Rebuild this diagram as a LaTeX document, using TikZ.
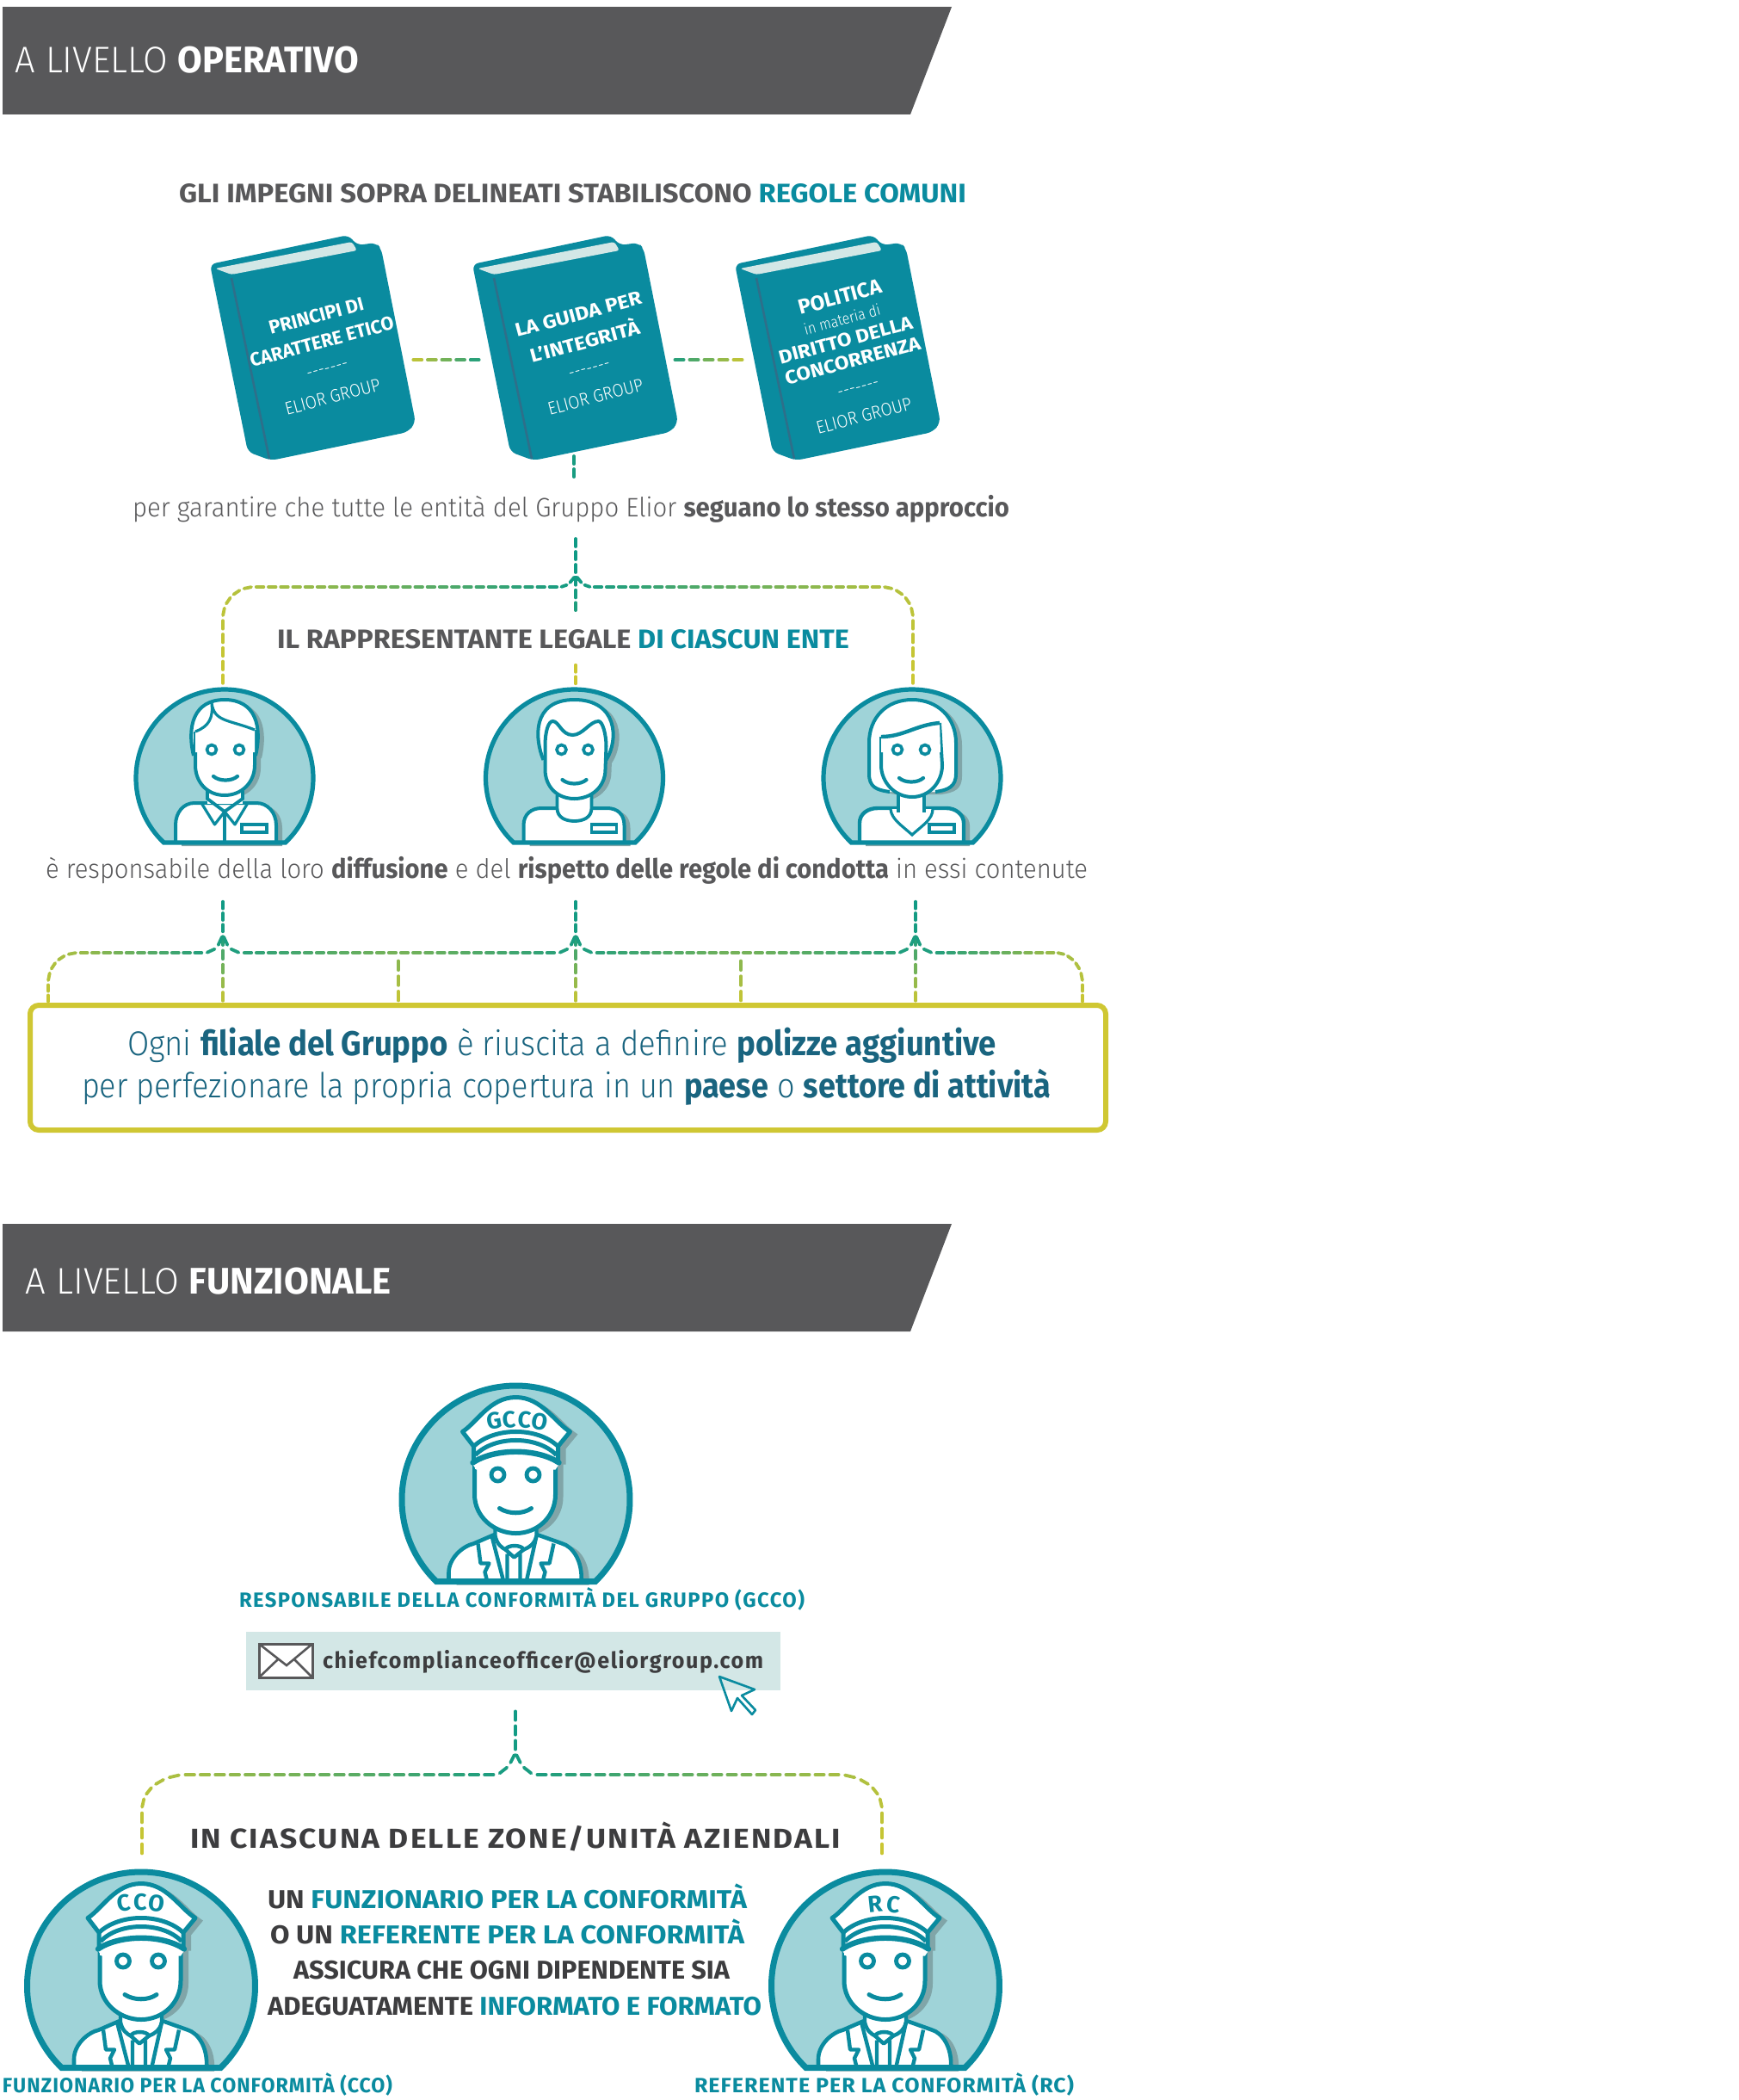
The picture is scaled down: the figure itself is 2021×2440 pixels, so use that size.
\documentclass[tikz,border=0pt]{standalone}
\usepackage{graphicx}
\usepackage{fontspec}
\setmainfont{Fira Sans Light}[BoldFont={Fira Sans Bold}]
\definecolor{hdr}{HTML}{58585A}
\definecolor{dk}{HTML}{3D3D3F}
\definecolor{tl}{HTML}{0A8B9F}
\definecolor{bxt}{HTML}{19647F}
\definecolor{pale}{HTML}{D3E7E6}
\definecolor{cfill}{HTML}{9FD3D8}
\definecolor{shd}{HTML}{80A5A8}
\definecolor{spn}{HTML}{2E6F8A}
\definecolor{ybox}{HTML}{CFC733}
\definecolor{dy}{HTML}{CDC732}
\definecolor{dt}{HTML}{0F9A85}
\newsavebox\fitbox
\newcommand\fit[2]{\sbox\fitbox{#2}\pgfmathsetmacro\fitr{#1*0.5/\wd\fitbox}\scalebox{\fitr}[1]{\usebox\fitbox}}
\newcommand\fs[1]{\fontsize{#1}{#1}\selectfont}
\newcommand\gpath[4]{\foreach \i in {1,...,#2}{%
  \pgfmathsetmacro\ta{(\i-1+.2)/#2}\pgfmathsetmacro\tb{(\i-.2)/#2}\pgfmathsetmacro\mx{#3+(#4-#3)*(\i-.5)/#2}%
  \path #1 coordinate[pos=\ta] (dA) coordinate[pos=\tb] (dB);
  \draw[dashln,color=dy!\mx!dt] (dA) -- (dB);}}
% book
\newcommand\bookshape[1]{\begin{scope}[xshift=#1*0.5pt]
  \fill[tl,rounded corners=3.5pt] (244,307) -- (405,273) -- (415,285) -- (437,282) -- (443,289) -- (483,491) -- (474,502) -- (315,535) -- (288,525) -- cycle;
  \fill[pale,rounded corners=1.5pt] (250,312) -- (409,281) -- (415,291) -- (269,319) -- cycle;
  \draw[spn,line width=1.3pt] (269,323) -- (313,533);
  \end{scope}}
% small persons
\newcommand\cutcircle{(133.3:103) arc[start angle=133.3,end angle=406.7,radius=103] -- cycle}
\newcommand\badge{\draw[tl,fill=white,line width=1.6pt] (20,54) rectangle (49,63);}
\newcommand\eyes[2]{\draw[tl,fill=white,line width=1.8pt] (#1,-33) circle[radius=5.5] (#2,-33) circle[radius=5.5];}
\newcommand\mouth[2]{\draw[tl,line width=2.1pt,line cap=round] (-14+#1,#2) .. controls (-7+#1,#2+6) and (7+#1,#2+6) .. (14+#1,#2);}
\newcommand\persA{
  \newcommand\hairP{(-36,-26) .. controls (-44,-60) and (-36,-91) .. (0,-91) .. controls (36,-91) and (44,-60) .. (36,-26)}
  \newcommand\faceP{(-34,-54) -- (-34,-15) .. controls (-34,5) and (-20,20) .. (0,20) .. controls (20,20) and (35,5) .. (35,-15) -- (35,-56)}
  \newcommand\bodyP{(-57,76) -- (-57,55) .. controls (-57,40) and (-48,29) .. (-35,29) -- (37,29) .. controls (50,29) and (60,40) .. (60,55) -- (60,76)}
  \fill[cfill] \cutcircle;
  \begin{scope}[shift={(7,3)}]\fill[shd] \hairP -- cycle; \fill[shd] \faceP -- cycle; \fill[shd] \bodyP -- cycle;\end{scope}
  \fill[white] \bodyP -- cycle;
  \draw[tl,line width=2pt] \bodyP;
  \fill[white] (-20,15) rectangle (21,30);
  \draw[tl,line width=1.9pt] (-20,15) -- (-20,24) -- (0,39) -- (21,24) -- (21,15) (0,39) -- (0,76);
  \draw[tl,line width=1.6pt,line join=round] (-27,29) -- (-11.5,54) -- (0,39) -- (12,54) -- (27,29);
  \fill[white] \hairP -- cycle;
  \draw[tl,line width=2pt] \hairP;
  \fill[white] \faceP -- cycle;
  \draw[tl,line width=2pt] \faceP;
  \fill[white] (-34,-54) .. controls (-18,-60) and (-13,-70) .. (-15,-87) .. controls (-12,-65) and (5,-68) .. (35,-56) -- (35,-30) -- (-34,-30) -- cycle;
  \draw[tl,line width=1.6pt] (-34,-54) .. controls (-18,-60) and (-13,-70) .. (-15,-87) .. controls (-12,-65) and (5,-68) .. (35,-56);
  \badge \eyes{-15}{17} \mouth{1}{-2}
  \draw[tl,line width=2.6pt] \cutcircle;}
\newcommand\persB{
  \newcommand\hairQ{(-36,-21) .. controls (-46,-45) and (-50,-91) .. (0,-91) .. controls (50,-91) and (52,-45) .. (37,-21)}
  \newcommand\faceQ{(-34,-37) -- (-34,-10) .. controls (-34,10) and (-20,24) .. (0,24) .. controls (20,24) and (36,10) .. (36,-10) -- (37,-37)}
  \newcommand\bodyQ{(-59,76) -- (-59,55) .. controls (-59,42) and (-50,35) .. (-38,35) -- (38,35) .. controls (50,35) and (58,42) .. (58,55) -- (58,76)}
  \newcommand\frQ{(-34,-37) .. controls (-34,-55) and (-30,-66) .. (-25,-66) .. controls (-18,-66) and (-15,-50) .. (-2,-50) .. controls (10,-50) and (18,-66) .. (28,-66) .. controls (33,-66) and (37,-50) .. (37,-37)}
  \fill[cfill] \cutcircle;
  \begin{scope}[shift={(7,3)}]\fill[shd] \hairQ -- cycle; \fill[shd] \faceQ -- cycle; \fill[shd] \bodyQ -- cycle;\end{scope}
  \fill[white] \bodyQ -- cycle;
  \draw[tl,line width=2pt] \bodyQ;
  \fill[white] (-20,20) -- (-20,35) .. controls (-20,46) and (-10,50) .. (0,50) .. controls (10,50) and (20,46) .. (20,35) -- (20,20) -- cycle;
  \draw[tl,line width=1.9pt] (-20,20) -- (-20,35) .. controls (-20,46) and (-10,50) .. (0,50) .. controls (10,50) and (20,46) .. (20,35) -- (20,20);
  \fill[white] \hairQ -- cycle;
  \draw[tl,line width=2pt] \hairQ;
  \fill[white] \faceQ -- cycle;
  \draw[tl,line width=2pt] \faceQ;
  \draw[tl,line width=2pt] \frQ;
  \badge \eyes{-15}{16} \mouth{0}{2}
  \draw[tl,line width=2.6pt] \cutcircle;}
\newcommand\persC{
  \newcommand\hairR{(-26,16) .. controls (-42,14) and (-50,10) .. (-50,-5) -- (-50,-41) .. controls (-50,-70) and (-30,-91) .. (0,-91) .. controls (30,-91) and (51,-70) .. (51,-41) -- (51,-5) .. controls (51,10) and (42,14) .. (27,16)}
  \newcommand\faceR{(-36,-48) -- (-36,-15) .. controls (-36,5) and (-20,22) .. (0,22) .. controls (20,22) and (35,5) .. (35,-15) -- (32,-64)}
  \newcommand\bodyR{(-61,76) -- (-61,52) .. controls (-61,42) and (-52,35) .. (-40,35) -- (40,35) .. controls (50,35) and (60,42) .. (60,52) -- (60,76)}
  \fill[cfill] \cutcircle;
  \begin{scope}[shift={(7,3)}]\fill[shd] \hairR -- cycle; \fill[shd] \bodyR -- cycle;\end{scope}
  \fill[white] \bodyR -- cycle;
  \draw[tl,line width=2.2pt] \bodyR;
  \fill[white] (-25,36) .. controls (-24,48) and (-12,55) .. (0,66) .. controls (12,55) and (24,48) .. (24,36) -- cycle;
  \draw[tl,line width=1.6pt] (-25,36) .. controls (-24,48) and (-12,55) .. (0,66) .. controls (12,55) and (24,48) .. (24,36);
  \fill[white] (-16,15) rectangle (14,38);
  \draw[tl,line width=1.9pt] (-16,15) -- (-16,40) (14,15) -- (14,40);
  \fill[white] \hairR -- cycle;
  \draw[tl,line width=2pt] \hairR;
  \fill[white] \faceR -- cycle;
  \draw[tl,line width=2pt] \faceR;
  \fill[white] (-36,-48) .. controls (-10,-48) and (5,-62) .. (32,-64) -- (33,-30) -- (-36,-30) -- cycle;
  \draw[tl,line width=2.2pt] (-36,-48) .. controls (-10,-48) and (5,-62) .. (32,-64);
  \badge \eyes{-17}{15} \mouth{-1}{0}
  \draw[tl,line width=2.6pt] \cutcircle;}
% officer
\newcommand\bigcut{(134.2:132.5) arc[start angle=134.2,end angle=405.8,radius=132.5] -- cycle}
\newcommand\hatP{(-62,-79) .. controls (-45,-90) and (-30,-119) .. (0,-119) .. controls (30,-119) and (45,-90) .. (63,-79) -- (49,-62) -- (49,-44) -- (-49,-44) -- (-49,-62) -- cycle}
\newcommand\faceC{(-48,-45) -- (-48,-6) .. controls (-48,20) and (-25,39) .. (0,39) .. controls (25,39) and (46,20) .. (46,-6) -- (46,-45)}
\newcommand\bodyC{(-78,96) -- (-78,85) .. controls (-78,68) and (-62,54) .. (-49,51) -- (-26,41) -- (26,41) -- (54,51) .. controls (65,54) and (78,70) .. (76,96)}
\newcommand\officer[1]{
  \fill[cfill] \bigcut;
  \begin{scope}[shift={(9,3)}]\fill[shd] \hatP; \fill[shd] \faceC -- cycle; \fill[shd] \bodyC -- cycle;\end{scope}
  \fill[white] \bodyC -- cycle;
  \draw[tl,line width=2.3pt,line join=round] \bodyC;
  \fill[white] (-24,30) -- (-24,42) .. controls (-22,52) and (-12,58) .. (-10,60) -- (8,60) .. controls (12,58) and (22,52) .. (24,42) -- (24,30) -- cycle;
  \draw[tl,line width=2.2pt] (-24,30) -- (-24,42) .. controls (-22,52) and (-16,56) .. (-12,58) (24,30) -- (24,42) .. controls (22,52) and (14,56) .. (9,58);
  \draw[tl,line width=2.2pt,line join=round] (-44,51) -- (-41,74) -- (-31,74) -- (-36,84) -- (-33,96) (-28,42) -- (-14,96)
     (44,51) -- (39,74) -- (29,74) -- (34,84) -- (31,96) (24,42) -- (12,96)
     (-12,58) .. controls (-10,52) and (7,52) .. (9,58) -- (-2,67) -- cycle (-10,63) -- (-10,96) (5,63) -- (5,96);
  \fill[white] \faceC -- cycle;
  \draw[tl,line width=2.5pt] \faceC;
  \fill[white] \hatP;
  \draw[tl,line width=2.5pt,line join=round] \hatP;
  \fill[white] (-52,-44) .. controls (-25,-60) and (25,-60) .. (52,-44) -- (46,-35) -- (-46,-35) -- cycle;
  \fill[white] (-48,-46) rectangle (46,-36);
  \draw[tl,line width=2.5pt] (-49,-62) .. controls (-25,-84.7) and (25,-84.7) .. (49,-62)
     (-47,-52) .. controls (-25,-74.7) and (25,-74.7) .. (47,-52);
  \draw[tl,line width=3.2pt,line cap=round] (-50,-43) .. controls (-25,-60) and (25,-60) .. (50,-43);
  \draw[tl,fill=white,line width=2.4pt] (-21,-29) circle[radius=7.5] (20,-29) circle[radius=7.5];
  \draw[tl,line width=2.5pt,line cap=round] (-19,10) .. controls (-8,17) and (8,17) .. (18,10);
  \draw[tl,line width=3.5pt] \bigcut;
  #1}
\tikzset{
  x=0.5pt,y=-0.5pt,
  dashln/.style={line width=1.9pt,line cap=round},
  lbl/.style={anchor=base west,inner sep=0pt,outer sep=0pt},
  btx/.style={anchor=center,inner sep=0pt,outer sep=0pt,rotate=15,text=white},
  hat/.style={anchor=center,inner sep=0pt,outer sep=0pt,text=tl,font=\bfseries\fs{13.5}},
  hdrbar/.style={fill=hdr}
}
\begin{document}
\begin{tikzpicture}
\useasboundingbox (0,0) rectangle (2021,2440);
\fill[white] (0,0) rectangle (2021,2440);
% headers
\fill[hdrbar] (3,8) -- (1106,8) -- (1058,133) -- (3,133) -- cycle;
\node[lbl,text=white] (h1) at (18,85) {\fit{399}{\fs{21.5}A LIVELLO \textbf{OPERATIVO}}};
\fill[hdrbar] (3,1422) -- (1106,1422) -- (1058,1547) -- (3,1547) -- cycle;
\node[lbl,text=white] (h2) at (30,1503) {\fit{425}{\fs{21.5}A LIVELLO \textbf{FUNZIONALE}}};
\node[lbl,text=hdr] (t1) at (208,235) {\fit{915}{\fs{15.5}\bfseries GLI IMPEGNI SOPRA DELINEATI STABILISCONO \textcolor{tl}{REGOLE COMUNI}}};
% books
\bookshape{0}\bookshape{305}\bookshape{610}
\begin{scope}[every node/.style={btx}]
\node[font=\bfseries\fs{11}] (b1a) at (367.5,367) {\fit{113}{PRINCIPI DI}};
\node[font=\bfseries\fs{11}] (b1b) at (374,397) {\fit{172}{CARATTERE ETICO}};
\node[font=\fs{10}] (b1c) at (381,431) {\fit{49}{-{}-{}-{}-{}-{}-{}-}};
\node[font=\fs{10.5}] (b1d) at (386.5,461) {\fit{114}{ELIOR GROUP}};
\node[font=\bfseries\fs{11}] (b2a) at (672,365) {\fit{151}{LA GUIDA PER}};
\node[font=\bfseries\fs{11}] (b2b) at (679,395) {\fit{131}{L’INTEGRITÀ}};
\node[font=\fs{10}] (b2c) at (685.5,431) {\fit{49}{-{}-{}-{}-{}-{}-{}-}};
\node[font=\fs{10.5}] (b2d) at (692,461) {\fit{114}{ELIOR GROUP}};
\node[font=\bfseries\fs{12}] (b3a) at (976,345) {\fit{99}{POLITICA}};
\node[font=\fs{9}] (b3b) at (978.6,371) {\fit{91}{in materia di}};
\node[font=\bfseries\fs{11}] (b3c) at (982.6,395) {\fit{160}{DIRITTO DELLA}};
\node[font=\bfseries\fs{11}] (b3d) at (991,419) {\fit{162}{CONCORRENZA}};
\node[font=\fs{10}] (b3e) at (998,453) {\fit{49}{-{}-{}-{}-{}-{}-{}-}};
\node[font=\fs{10.5}] (b3f) at (1004,483) {\fit{114}{ELIOR GROUP}};
\end{scope}
% book links
\coordinate (l1a) at (477,418); \coordinate (l1b) at (560,418);
\coordinate (l2a) at (781,418); \coordinate (l2b) at (866,418);
\gpath{(l1a) -- (l1b)}{5}{100}{5}
\gpath{(l2a) -- (l2b)}{5}{5}{100}
\coordinate (d1a) at (667,527); \coordinate (d1b) at (667,557);
\gpath{(d1a) -- (d1b)}{2}{5}{5}
\node[lbl,text=hdr] (t2) at (154,600) {\fit{1019}{\fs{15.5}per garantire che tutte le entità del Gruppo Elior \textbf{seguano lo stesso approccio}}};
% bracket 1
\coordinate (e1t) at (669,623); \coordinate (e1m) at (669,668); \coordinate (e1b) at (669,712);
\coordinate (e1c) at (669,770); \coordinate (e1d) at (669,797);
\coordinate (e1l) at (650,682); \coordinate (e1r) at (688,682);
\coordinate (e1lc) at (295,682); \coordinate (e1rc) at (1025,682);
\coordinate (e1lv) at (259,718); \coordinate (e1rv) at (1061,718);
\coordinate (e1le) at (259,797); \coordinate (e1re) at (1061,797);
\gpath{(e1t) -- (e1m)}{3}{0}{0}
\gpath{(e1m) -- (e1b)}{3}{0}{10}
\gpath{(e1c) -- (e1d)}{2}{100}{100}
\gpath{(e1m) .. controls (664,677) and (658,682) .. (e1l)}{2}{0}{5}
\gpath{(e1m) .. controls (674,677) and (680,682) .. (e1r)}{2}{0}{5}
\gpath{(e1l) -- (e1lc)}{25}{5}{85}
\gpath{(e1r) -- (e1rc)}{24}{5}{85}
\gpath{(e1lc) .. controls (275,682) and (259,698) .. (e1lv)}{4}{85}{92}
\gpath{(e1rc) .. controls (1045,682) and (1061,698) .. (e1rv)}{4}{85}{92}
\gpath{(e1lv) -- (e1le)}{5}{92}{100}
\gpath{(e1rv) -- (e1re)}{5}{92}{100}
\node[lbl,text=hdr] (t3) at (322,753) {\fit{665}{\fs{15.5}\bfseries IL RAPPRESENTANTE LEGALE \textcolor{tl}{DI CIASCUN ENTE}}};
% persons
\begin{scope}[shift={(261,904)}]\persA\end{scope}
\begin{scope}[shift={(667.5,904)}]\persB\end{scope}
\begin{scope}[shift={(1060,904)}]\persC\end{scope}
\node[lbl,text=hdr] (t4) at (53,1020) {\fit{1211}{\fs{15.5}è responsabile della loro \textbf{diffusione} e del \textbf{rispetto delle regole di condotta} in essi contenute}};
% bracket 2
\foreach \n/\x in {a/259,b/669,c/1064}{
  \coordinate (f\n t) at (\x,1045); \coordinate (f\n m) at (\x,1085); \coordinate (f\n b) at (\x,1166);
  \gpath{(f\n t) -- (f\n m)}{3}{0}{5}
  \gpath{(f\n m) -- (f\n b)}{5}{5}{100}
  \coordinate (f\n l) at (\x-22,1107); \coordinate (f\n r) at (\x+22,1107);
  \gpath{(f\n m) .. controls (\x-3,1097) and (\x-9,1107) .. (f\n l)}{2}{5}{10}
  \gpath{(f\n m) .. controls (\x+3,1097) and (\x+9,1107) .. (f\n r)}{2}{5}{10}
}
\coordinate (flc) at (91,1107); \coordinate (frc) at (1227,1107);
\coordinate (flv) at (56,1142); \coordinate (frv) at (1258,1142);
\coordinate (fle) at (56,1166); \coordinate (fre) at (1258,1166);
\coordinate (fm1) at (463,1107); \coordinate (fm2) at (861,1107);
\coordinate (fd1) at (463,1113); \coordinate (fd2) at (861,1113);
\coordinate (fe1) at (463,1166); \coordinate (fe2) at (861,1166);
\gpath{(fal) -- (flc)}{11}{10}{75}
\gpath{(fcr) -- (frc)}{11}{10}{75}
\gpath{(far) -- (fm1)}{13}{15}{55}
\gpath{(fm1) -- (fbl)}{13}{55}{15}
\gpath{(fbr) -- (fm2)}{13}{15}{55}
\gpath{(fm2) -- (fcl)}{13}{55}{15}
\gpath{(flc) .. controls (71,1107) and (56,1122) .. (flv)}{4}{75}{90}
\gpath{(frc) .. controls (1243,1107) and (1258,1122) .. (frv)}{4}{75}{90}
\gpath{(flv) -- (fle)}{2}{90}{100}
\gpath{(frv) -- (fre)}{2}{90}{100}
\gpath{(fd1) -- (fe1)}{3}{60}{100}
\gpath{(fd2) -- (fe2)}{3}{60}{100}
% box
\node[draw=ybox,line width=3pt,fill=white,rounded corners=5pt,minimum width=625pt,minimum height=72.5pt,inner sep=0pt,outer sep=0pt,anchor=north west] (box) at (35,1168) {};
\node[lbl,text=bxt] (bx1) at (148,1226) {\fit{1010}{\fs{20}Ogni \textbf{filiale del Gruppo} è riuscita a definire \textbf{polizze aggiuntive}}};
\node[lbl,text=bxt] (bx2) at (95,1275) {\fit{1126}{\fs{20}per perfezionare la propria copertura in un \textbf{paese} o \textbf{settore di attività}}};
% GCCO
\begin{scope}[shift={(599.5,1742.5)}]
\officer{
  \node[hat,rotate=10] (g1) at (-25,-92) {G};
  \node[hat,rotate=4] (g2) at (-8,-93) {C};
  \node[hat,rotate=-4] (g3) at (10,-93) {C};
  \node[hat,rotate=-10] (g4) at (28,-91) {O};}
\end{scope}
\node[lbl,text=tl] (t5) at (278,1867) {\fit{657}{\fs{12}\addfontfeature{LetterSpace=6}\bfseries RESPONSABILE DELLA CONFORMITÀ DEL GRUPPO (GCCO)}};
\fill[pale] (286,1896) rectangle (907,1964);
\fill[gray!75] (303,1912) rectangle (365,1951);
\draw[hdr,fill=white,line width=1.5pt] (301,1910) rectangle (363,1949);
\draw[hdr,line width=1.3pt] (301,1910) -- (333,1935) -- (363,1910) (301,1949) -- (323,1928) (363,1949) -- (342,1928);
\node[lbl,text=dk] (mail) at (375,1938) {\fit{512}{\fs{13}\addfontfeature{LetterSpace=6}\bfseries chiefcomplianceofficer@eliorgroup.com}};
\draw[tl,line width=1.3pt,line join=round] (836,1948) -- (877,1963) -- (862,1970) -- (878,1987) -- (874,1992) -- (857,1973) -- (850,1988) -- cycle;
% bracket 3
\coordinate (g1t) at (599,1985); \coordinate (g1m) at (599,2036);
\coordinate (g1l) at (577,2062); \coordinate (g1r) at (621,2062);
\coordinate (g1lc) at (212,2062); \coordinate (g1rc) at (978,2062);
\coordinate (g1lv) at (165,2103); \coordinate (g1rv) at (1025,2103);
\coordinate (g1le) at (165,2157); \coordinate (g1re) at (1025,2157);
\gpath{(g1t) -- (g1m)}{3}{0}{3}
\gpath{(g1m) .. controls (595,2046) and (590,2057) .. (g1l)}{2}{3}{6}
\gpath{(g1m) .. controls (603,2046) and (608,2057) .. (g1r)}{2}{3}{6}
\gpath{(g1l) -- (g1lc)}{21}{6}{80}
\gpath{(g1r) -- (g1rc)}{21}{6}{80}
\gpath{(g1lc) .. controls (185,2065) and (165,2080) .. (g1lv)}{4}{80}{92}
\gpath{(g1rc) .. controls (1005,2065) and (1025,2080) .. (g1rv)}{4}{80}{92}
\gpath{(g1lv) -- (g1le)}{3}{92}{100}
\gpath{(g1rv) -- (g1re)}{3}{92}{100}
\node[lbl,text=dk] (t6) at (221,2147) {\fit{756}{\fs{16}\addfontfeature{LetterSpace=6}\bfseries IN CIASCUNA DELLE ZONE/UNITÀ AZIENDALI}};
% officers
\begin{scope}[shift={(164,2307.5)}]
\officer{
  \node[hat,rotate=8] (c1) at (-20,-96) {C};
  \node[hat] (c2) at (-1,-97) {C};
  \node[hat,rotate=-8] (c3) at (18,-96) {O};}
\end{scope}
\begin{scope}[shift={(1029,2307.5)}]
\officer{
  \node[hat,rotate=6] (r1) at (-12,-95) {R};
  \node[hat,rotate=-6] (r2) at (9,-95) {C};}
\end{scope}
\node[lbl,text=dk] (l1) at (311,2217) {\fit{557}{\fs{15}\bfseries UN \textcolor{tl}{FUNZIONARIO PER LA CONFORMITÀ}}};
\node[lbl,text=dk] (l2) at (314,2258) {\fit{551}{\fs{15}\bfseries O UN \textcolor{tl}{REFERENTE PER LA CONFORMITÀ}}};
\node[lbl,text=dk] (l3) at (341,2299) {\fit{507}{\fs{15}\bfseries ASSICURA CHE OGNI DIPENDENTE SIA}};
\node[lbl,text=dk] (l4) at (311,2341) {\fit{574}{\fs{15}\bfseries ADEGUATAMENTE \textcolor{tl}{INFORMATO E FORMATO}}};
\node[lbl,text=tl] (l5) at (3,2431) {\fit{453}{\fs{12}\addfontfeature{LetterSpace=4}\bfseries FUNZIONARIO PER LA CONFORMITÀ (CCO)}};
\node[lbl,text=tl] (l6) at (807,2431) {\fit{441}{\fs{12}\addfontfeature{LetterSpace=4}\bfseries REFERENTE PER LA CONFORMITÀ (RC)}};
\end{tikzpicture}
\end{document}
